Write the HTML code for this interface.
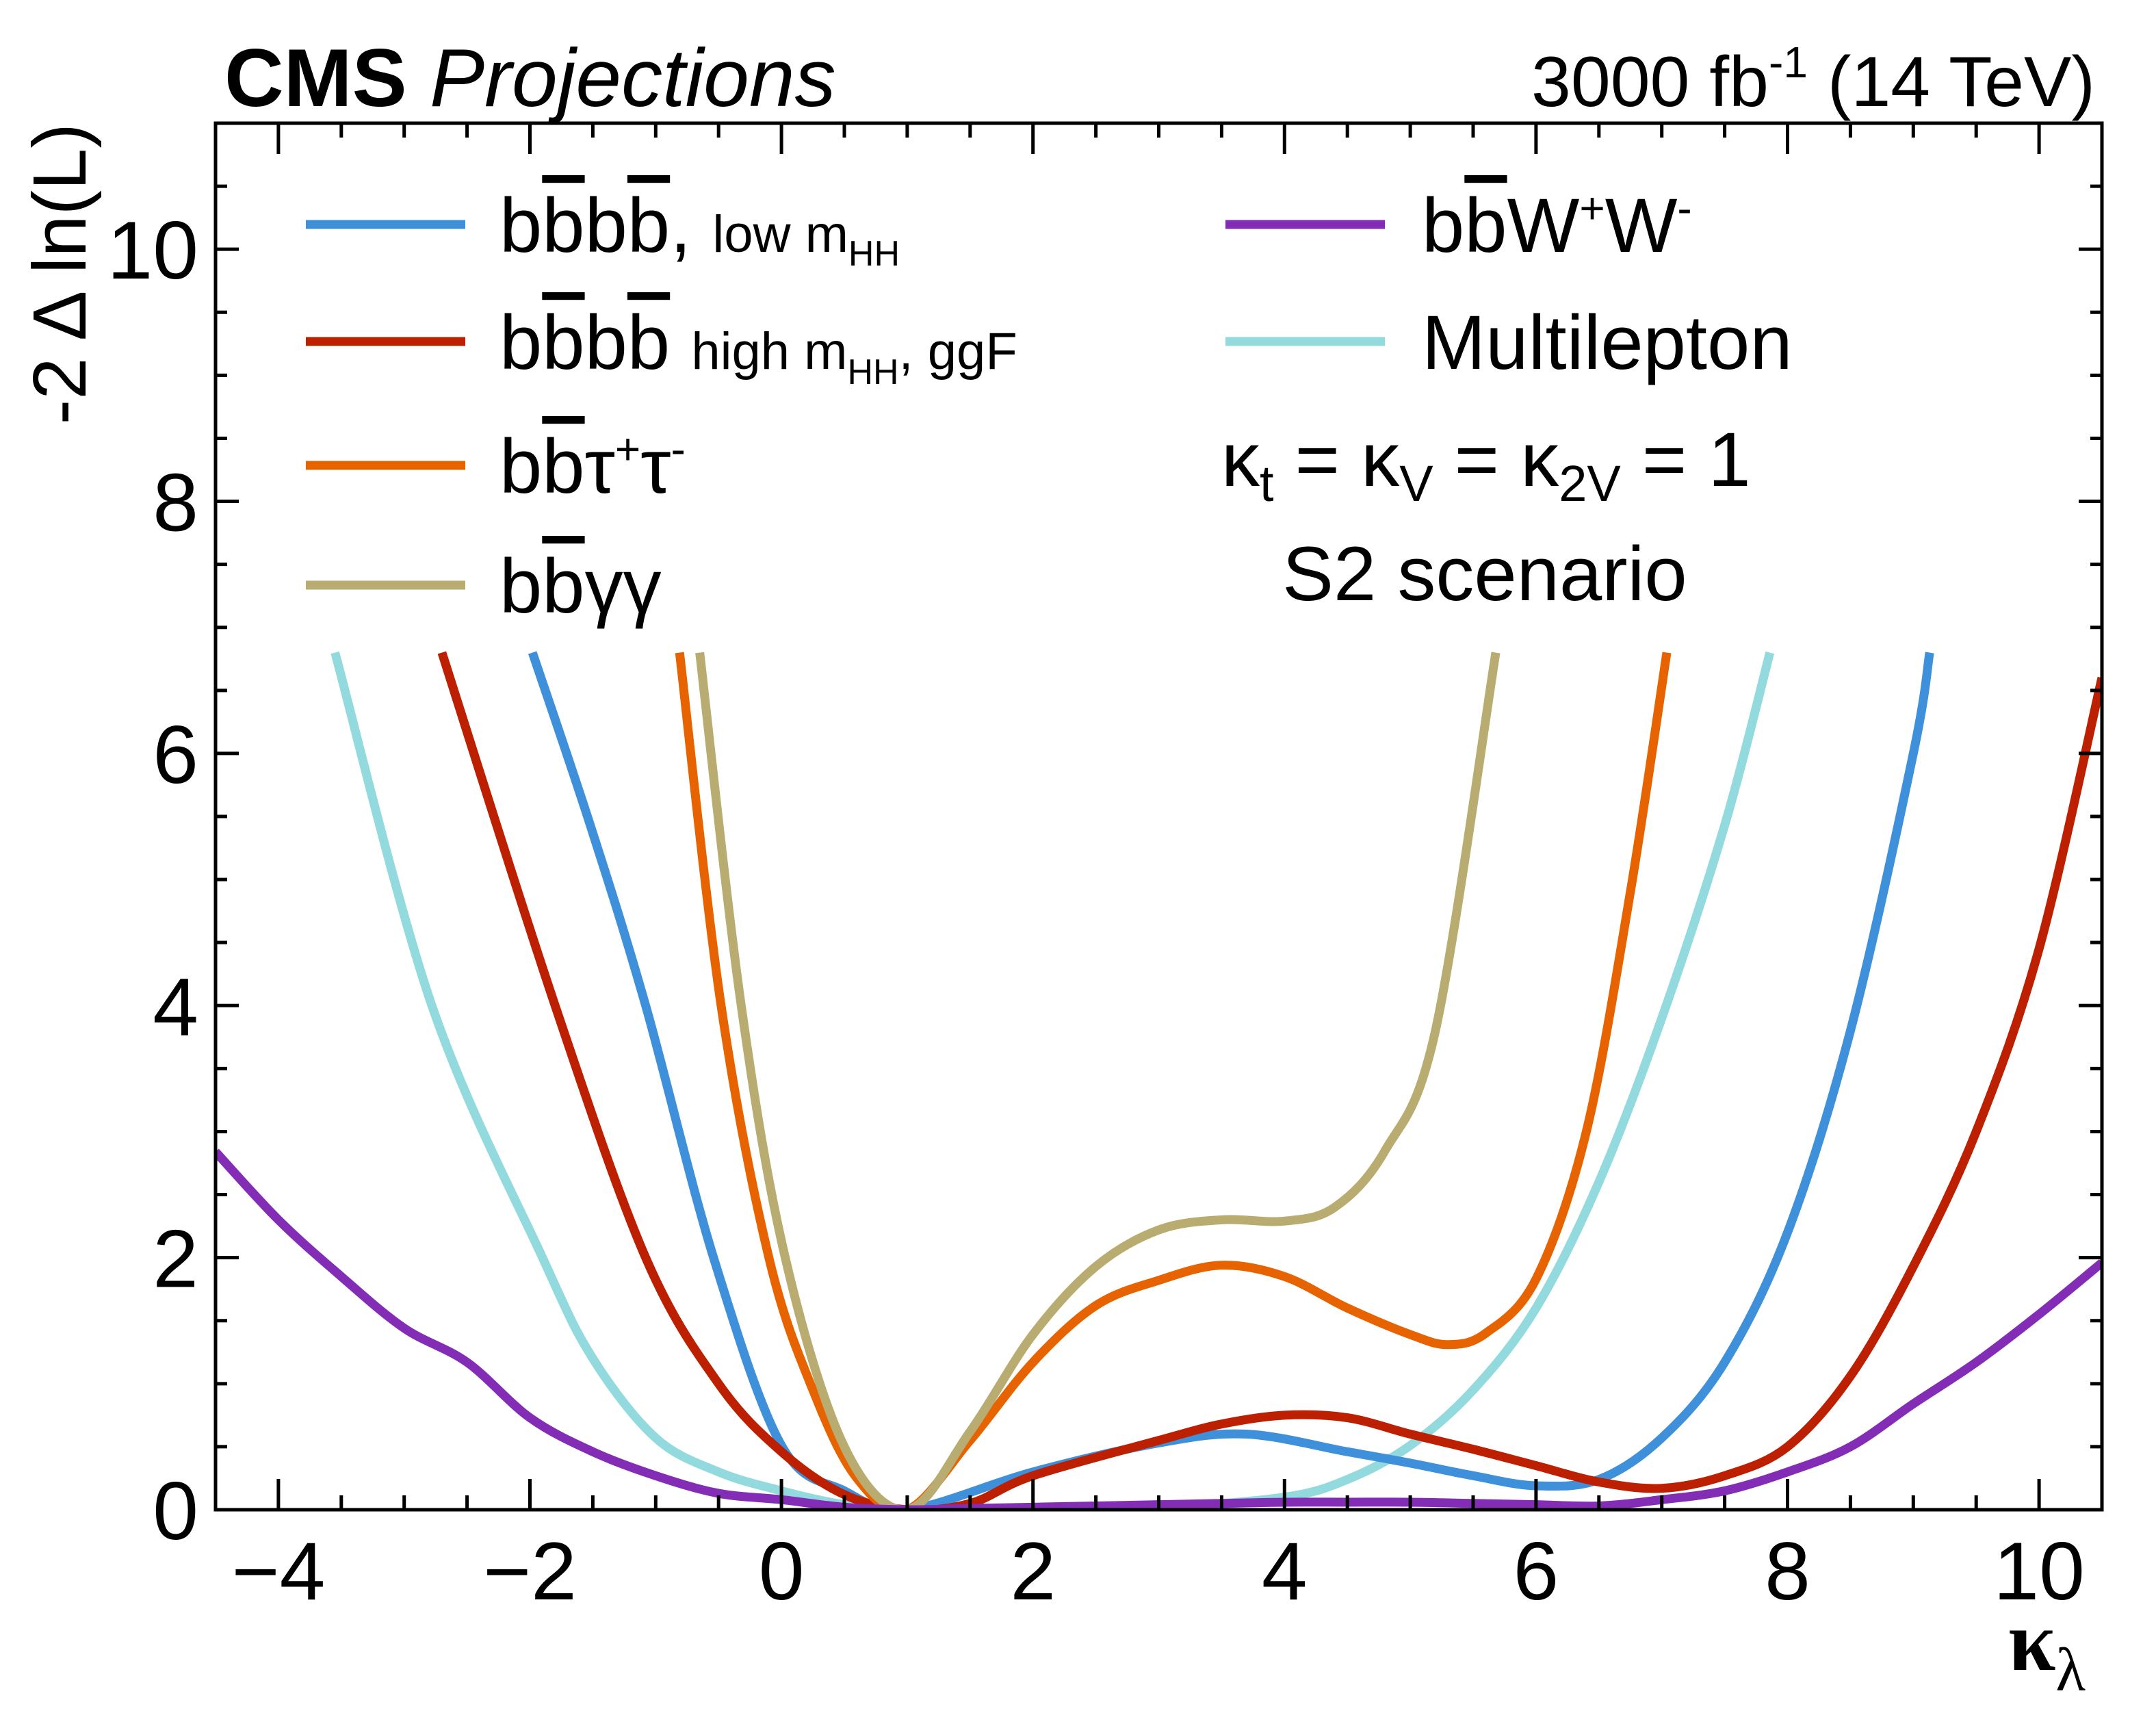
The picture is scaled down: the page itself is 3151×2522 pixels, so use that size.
<!DOCTYPE html>
<html><head><meta charset="utf-8"><style>
html,body{margin:0;padding:0;background:#fff;}
svg{display:block;font-family:"Liberation Sans",sans-serif;}
</style></head><body>
<svg id="chart" width="3151" height="2522" viewBox="0 0 3151 2522" xmlns="http://www.w3.org/2000/svg">
<defs><clipPath id="plotclip"><rect x="315" y="180" width="2757" height="2026"/></clipPath></defs>
<g id="curves" clip-path="url(#plotclip)"></g>
<g id="axes"></g>
<rect x="315" y="180" width="2757" height="2026" fill="none" stroke="#000" stroke-width="5"/>
<text x="328" y="155" font-size="120" font-weight="bold">CMS <tspan font-weight="normal" font-style="italic">Projections</tspan></text>
<text x="3062" y="155" font-size="104" text-anchor="end">3000 fb<tspan dy="-42" font-size="64">-1</tspan><tspan dy="42"> (14 TeV)</tspan></text>
<text transform="translate(125,180) rotate(-90)" font-size="110" text-anchor="end">-2 Δ ln(L)</text>
<text x="2935" y="2440" font-size="125" font-family="Liberation Serif,serif" font-weight="bold">κ<tspan dy="30" font-size="90" font-weight="normal">λ</tspan></text>
<g font-size="112">
 <line x1="447" y1="328" x2="680" y2="328" stroke="#3f90da" stroke-width="13"/>
 <text x="730" y="368">b<tspan style="text-decoration:overline">b</tspan>b<tspan style="text-decoration:overline">b</tspan>, <tspan font-size="76">low m</tspan><tspan font-size="52" dy="20">HH</tspan></text>
 <line x1="447" y1="499" x2="680" y2="499" stroke="#bd1f01" stroke-width="13"/>
 <text x="730" y="539">b<tspan style="text-decoration:overline">b</tspan>b<tspan style="text-decoration:overline">b</tspan> <tspan font-size="76">high m</tspan><tspan font-size="52" dy="22">HH</tspan><tspan font-size="76" dy="-22">, ggF</tspan></text>
 <line x1="447" y1="680" x2="680" y2="680" stroke="#e76300" stroke-width="13"/>
 <text x="730" y="720">b<tspan style="text-decoration:overline">b</tspan>τ<tspan font-size="64" dy="-42">+</tspan><tspan dy="42">τ</tspan><tspan font-size="64" dy="-42">-</tspan></text>
 <line x1="447" y1="855" x2="680" y2="855" stroke="#b9ac70" stroke-width="13"/>
 <text x="730" y="895">b<tspan style="text-decoration:overline">b</tspan>γγ</text>
 <line x1="1791" y1="328" x2="2024" y2="328" stroke="#832db6" stroke-width="13"/>
 <text x="2078" y="368">b<tspan style="text-decoration:overline">b</tspan>W<tspan font-size="64" dy="-42">+</tspan><tspan dy="42">W</tspan><tspan font-size="64" dy="-42">-</tspan></text>
 <line x1="1791" y1="499" x2="2024" y2="499" stroke="#92dadd" stroke-width="13"/>
 <text x="2078" y="539">Multilepton</text>
 <text x="1785" y="710">κ<tspan font-size="74" dy="22">t</tspan><tspan dy="-22"> = κ</tspan><tspan font-size="74" dy="22">V</tspan><tspan dy="-22"> = κ</tspan><tspan font-size="74" dy="22">2V</tspan><tspan dy="-22"> = 1</tspan></text>
 <text x="2170" y="877" text-anchor="middle">S2 scenario</text>
</g>
</svg>
<script>
const xTicks = [-4,-2,0,2,4,6,8,10];
const yTicks = [0,2,4,6,8,10];
const xs = [-4.5,-4,-3.5,-3,-2.5,-2,-1.5,-1,-0.5,0,0.5,1,1.5,2,2.5,3,3.5,4,4.5,5,5.5,6,6.5,7,7.5,8,8.5,9,9.5,10,10.5];
const blueX = [-1.98,-1.52,-1.08,-0.54,0,0.5,1,2,3,3.7,4.5,5,5.5,6,6.5,7,7.5,8,8.5,9,9.13];
const blueY = [6.8,5.43,4,2,0.51,0.15,0,0.3,0.53,0.6,0.46,0.37,0.27,0.19,0.24,0.57,1.17,2.2,3.8,6.0,6.8];
const redX = [-2.7,-1.8,-1.08,-0.5,0,0.5,1,1.5,2,3,3.5,4,4.5,5,5.5,6,6.5,7,7.5,8,8.5,9,9.5,10,10.5];
const redY = [6.8,4,2,1.0,0.46,0.12,0,0.05,0.27,0.55,0.68,0.75,0.73,0.6,0.48,0.35,0.22,0.17,0.27,0.5,1.06,1.93,3.0,4.45,6.6];
const orangeX = [-0.81,-0.48,-0.1,0.25,0.6,1,1.5,2,2.5,3,3.5,4,4.5,5,5.3,5.6,6,6.4,6.75,7.04];
const orangeY = [6.8,4,2,0.95,0.25,0,0.55,1.17,1.62,1.82,1.94,1.85,1.6,1.39,1.31,1.4,1.83,3.0,4.9,6.8];
const tanX = [-0.65,-0.32,0.03,0.5,1,1.5,2,2.5,3,3.5,4,4.4,4.8,5.2,5.68];
const tanY = [6.8,4,2,0.5,0,0.62,1.39,1.93,2.22,2.3,2.29,2.4,2.85,3.8,6.8];
const cyanX = [-3.55,-2.78,-1.9,-1.5,-1,-0.5,0,0.5,1,2,3,4,4.5,5,5.5,6,6.5,7,7.5,7.86];
const cyanY = [6.8,4,2,1.2,0.57,0.3,0.15,0.04,0,0.01,0.02,0.1,0.24,0.51,0.95,1.6,2.6,3.9,5.43,6.8];
const purpleY = [2.84,2.3,1.85,1.44,1.17,0.73,0.46,0.27,0.13,0.08,0.02,0,0.01,0.02,0.03,0.04,0.05,0.06,0.06,0.06,0.05,0.04,0.03,0.08,0.15,0.3,0.5,0.84,1.17,1.55,1.96];

const X0=315,X1=3072,Y0=2206,Y1=180;
function sx(v){return X0+(v+4.5)/15*(X1-X0);}
function sy(v){return Y0-v/11*(Y0-Y1);}
const NS="http://www.w3.org/2000/svg";
function pathFrom(xa,ya){
  const p=xa.map((x,i)=>[sx(x),sy(ya[i])]);
  let d="M"+p[0][0]+","+p[0][1];
  for(let i=0;i<p.length-1;i++){
    const p0=p[i-1]||p[i],p1=p[i],p2=p[i+1],p3=p[i+2]||p2;
    const c1=[p1[0]+(p2[0]-p0[0])/6,p1[1]+(p2[1]-p0[1])/6];
    const c2=[p2[0]-(p3[0]-p1[0])/6,p2[1]-(p3[1]-p1[1])/6];
    d+=" C"+c1+" "+c2+" "+p2;
  }
  return d;
}
const curves=document.getElementById('curves');
function addCurve(name,xa,ya,col){
  const el=document.createElementNS(NS,'path');
  el.setAttribute('d',pathFrom(xa,ya));
  el.setAttribute('fill','none');el.setAttribute('stroke',col);el.setAttribute('stroke-width','13');
  el.setAttribute('stroke-linejoin','round');
  
  
  curves.appendChild(el);
}
addCurve('curve-multilepton',cyanX,cyanY,'#92dadd');
addCurve('curve-bbbb-low',blueX,blueY,'#3f90da');
addCurve('curve-bbbb-high',redX,redY,'#bd1f01');
addCurve('curve-bbtautau',orangeX,orangeY,'#e76300');
addCurve('curve-bbgg',tanX,tanY,'#b9ac70');
addCurve('curve-bbww',xs,purpleY,'#832db6');

const axes=document.getElementById('axes');
function line(x1,y1,x2,y2,name){
  const l=document.createElementNS(NS,'line');
  l.setAttribute('x1',x1);l.setAttribute('y1',y1);l.setAttribute('x2',x2);l.setAttribute('y2',y2);
  l.setAttribute('stroke','#000');l.setAttribute('stroke-width','5');
  
  
  axes.appendChild(l);
}
for(let v=-4.5;v<=10.5001;v+=0.5){
  const major=Math.abs(v%2)<1e-6;const L=major?45:21;const x=sx(v);
  line(x,Y0,x,Y0-L,'x-tick');line(x,Y1,x,Y1+L,'x-tick-top');
}
for(let v=0;v<=11.0001;v+=0.5){
  const major=Math.abs(v%2)<1e-6;const L=major?34:17;const y=sy(v);
  line(X0,y,X0+L,y,'y-tick');line(X1,y,X1-L,y,'y-tick-right');
}
xTicks.forEach(v=>{
  const t=document.createElementNS(NS,'text');
  t.setAttribute('x',sx(v));t.setAttribute('y',2337);t.setAttribute('font-size','120');t.setAttribute('text-anchor','middle');
  t.textContent=(v<0?'\u2212'+(-v):String(v));
  
  
  axes.appendChild(t);
});
yTicks.forEach(v=>{
  const t=document.createElementNS(NS,'text');
  t.setAttribute('x',290);t.setAttribute('y',sy(v)+43);t.setAttribute('font-size','120');t.setAttribute('text-anchor','end');
  t.textContent=String(v);
  
  
  axes.appendChild(t);
});
</script>
</body></html>
